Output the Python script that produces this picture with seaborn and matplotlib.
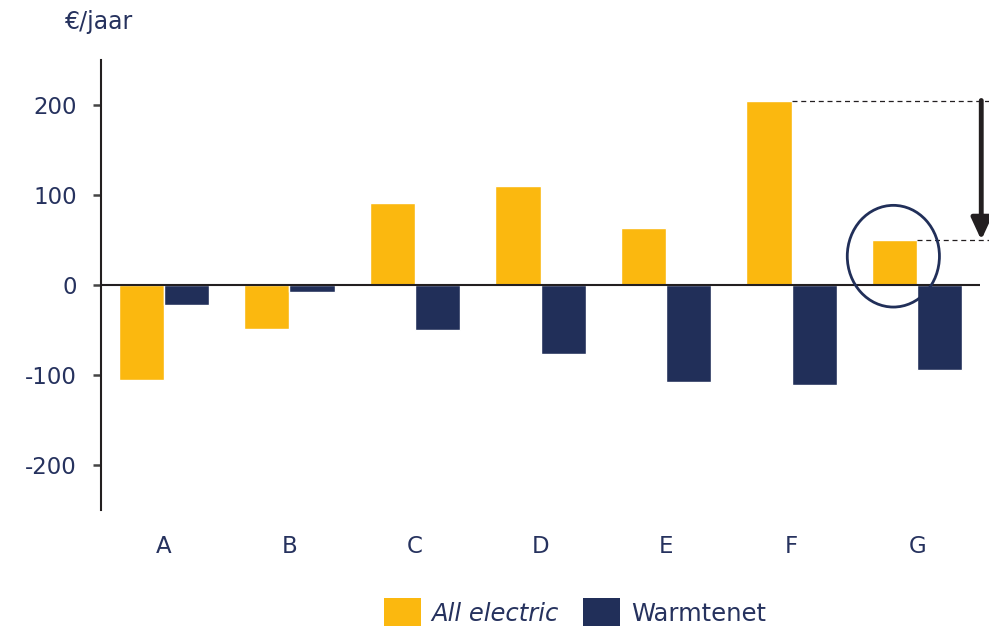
import matplotlib
matplotlib.use('Agg')
import matplotlib.pyplot as plt
from matplotlib.patches import Ellipse, Patch
import seaborn as sns
import pandas as pd

categories = ['A', 'B', 'C', 'D', 'E', 'F', 'G']
all_electric = [-106, -49, 91, 110, 63, 205, 50]
warmtenet = [-22, -8, -50, -77, -108, -111, -94]
series_names = ['All electric', 'Warmtenet']
y_ticks = [-200, -100, 0, 100, 200]

YELLOW = '#FBB80F'
NAVY = '#212F59'
TEXT = '#26325E'
DARK = '#231F20'

df = pd.DataFrame({
    'categorie': categories * 2,
    'waarde': all_electric + warmtenet,
    'reeks': [series_names[0]] * len(categories) + [series_names[1]] * len(categories),
})

sns.set_style('ticks')
plt.rcParams['font.family'] = ['DejaVu Sans']
plt.rcParams['axes.unicode_minus'] = False

fig = plt.figure(figsize=(9.89, 6.26), dpi=100)
ax = fig.add_axes([101 / 989, 1 - 510 / 626, 879 / 989, 450 / 626])

sns.barplot(data=df, x='categorie', y='waarde', hue='reeks', order=categories,
            hue_order=series_names, palette={series_names[0]: YELLOW, series_names[1]: NAVY},
            width=0.72, gap=0, saturation=1, errorbar=None, legend=False, ax=ax)

ax.set_xlim(-0.5, 6.5)
ax.set_ylim(-250, 250)
ax.set_yticks(y_ticks)
ax.set_xlabel('')
ax.set_ylabel('')
ax.axhline(0, color=DARK, lw=1.5, zorder=3)

for s in ['top', 'right', 'bottom']:
    ax.spines[s].set_visible(False)
ax.spines['left'].set_color(DARK)
ax.spines['left'].set_linewidth(1.5)
ax.yaxis.set_ticks_position('left')
ax.tick_params(axis='y', which='major', length=5.5, width=1.8, color='#444444',
               labelsize=16.5, labelcolor=TEXT, pad=12, direction='out')
ax.tick_params(axis='x', length=0, labelsize=16.5, labelcolor=TEXT, pad=18)

# annotation: verschil tussen F en G
f_top = all_electric[5]
g_top = all_electric[6]
ax.plot([5, 6.58], [f_top, f_top], ls=(0, (4, 3)), color=DARK, lw=0.9, clip_on=False)
ax.plot([6, 6.58], [g_top, g_top], ls=(0, (4, 3)), color=DARK, lw=0.9, clip_on=False)
ax.annotate('', xy=(6.51, g_top), xytext=(6.51, f_top), annotation_clip=False,
            arrowprops=dict(arrowstyle='-|>,head_length=0.65,head_width=0.3',
                            mutation_scale=20, color=DARK, lw=3.5, shrinkA=0, shrinkB=0))
ax.add_patch(Ellipse((5.81, 32), 0.734, 113, fill=False, edgecolor=NAVY, lw=2,
                     clip_on=False, zorder=4))

fig.text(65 / 989, 1 - 22 / 626, '€/jaar', fontsize=17, color=TEXT,
         ha='left', va='center')

handles = [Patch(facecolor=YELLOW, edgecolor='none'),
           Patch(facecolor=NAVY, edgecolor='none')]
leg = fig.legend(handles, series_names, loc='center', bbox_to_anchor=(575 / 989, 1 - 613 / 626),
                 ncol=2, frameon=False, fontsize=17.5, handlelength=1.5, handleheight=1.5,
                 handletextpad=0.45, columnspacing=1.0, borderaxespad=0)
for t in leg.get_texts():
    t.set_color(TEXT)
leg.get_texts()[0].set_style('italic')

fig.savefig('out.png', dpi=100)
